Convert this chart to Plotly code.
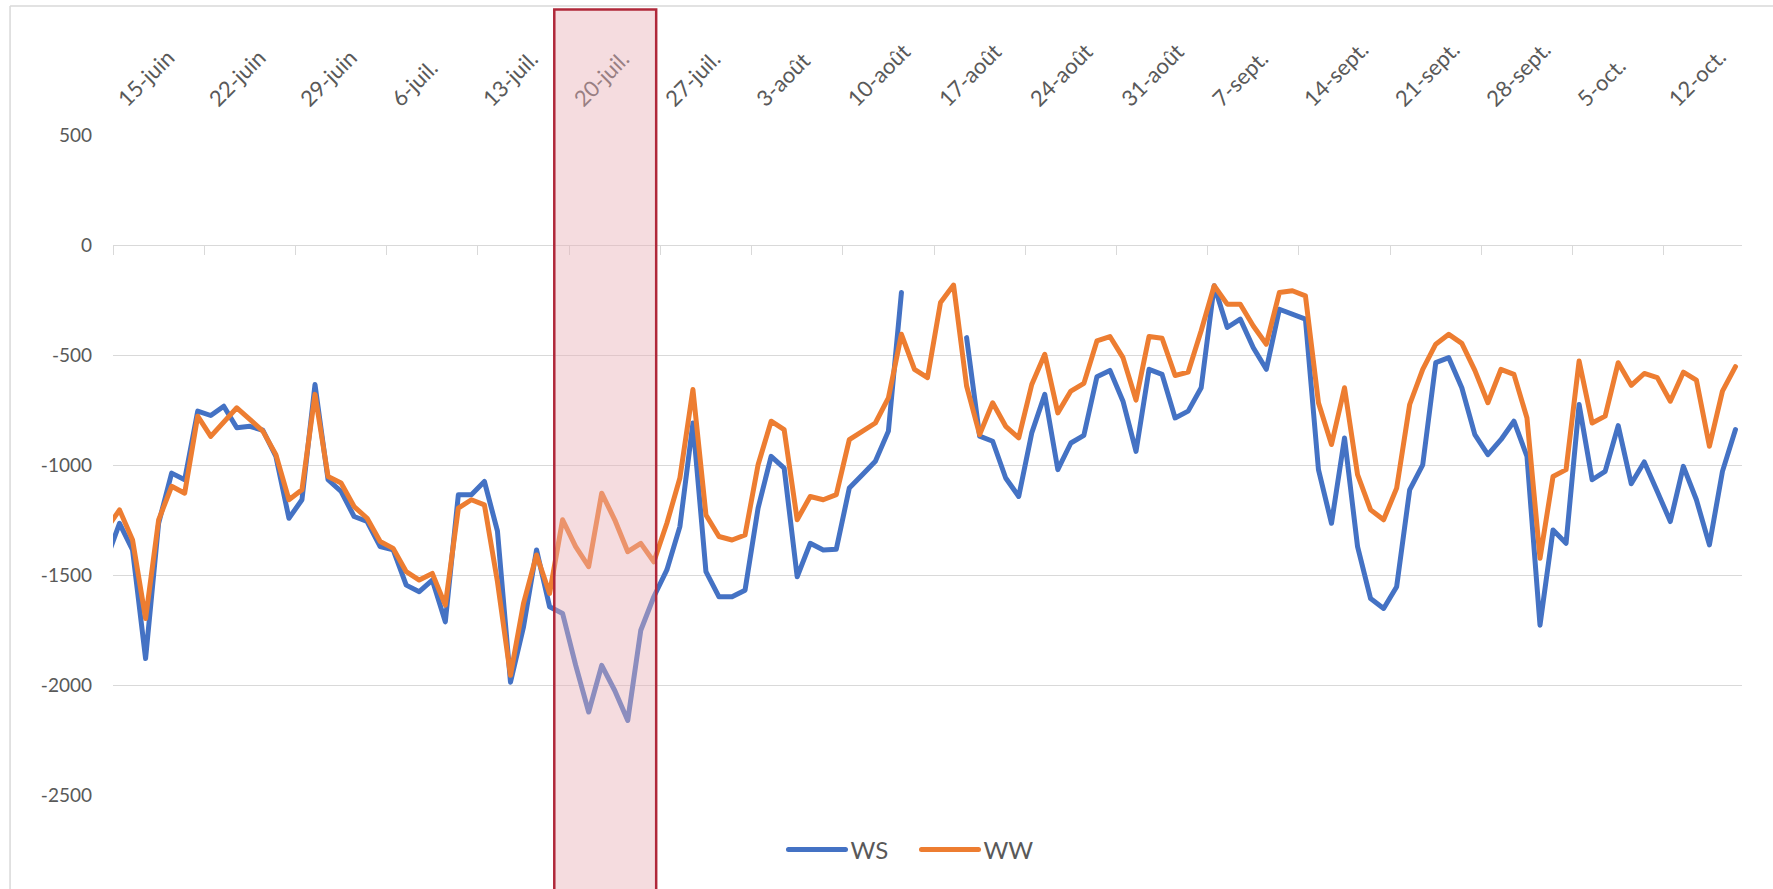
import pandas as pd
import plotly.graph_objects as go

# ---- data (daily, 14 June -> 17 Oct) ----
start_date = "2020-06-14"
end_date = "2020-10-17"
dates = pd.date_range(start_date, end_date, freq="D")

ws = [-1430, -1265, -1386, -1880, -1265, -1037, -1067, -755, -775, -733,
      -831, -824, -842, -961, -1242, -1158, -634, -1067, -1120, -1234,
      -1257, -1371, -1386, -1546, -1576, -1523, -1713, -1135, -1135, -1075,
      -1300, -1987, -1736, -1386, -1644, -1675, -1910, -2123, -1911, -2025,
      -2161, -1751, -1599, -1477, -1280, -809, -1485, -1599, -1599, -1569,
      -1196, -961, -1014, -1508, -1356, -1386, -1383, -1105, -1044, -983,
      -846, -216, None, None, None, None, -421, -869, -892, -1059,
      -1143, -854, -679, -1021, -900, -865, -599, -570, -710, -938,
      -565, -588, -786, -755, -649, -185, -375, -337, -467, -565,
      -292, -315, -337, -1021, -1265, -877, -1371, -1607, -1652, -1553,
      -1113, -999, -535, -512, -649, -862, -953, -885, -801, -961,
      -1728, -1295, -1356, -725, -1067, -1029, -821, -1085, -986, -1120,
      -1257, -1006, -1158, -1363, -1029, -839]

ww = [-1290, -1204, -1341, -1698, -1250, -1097, -1128, -778, -870, -809,
      -740, -793, -846, -953, -1158, -1113, -679, -1052, -1082, -1189,
      -1242, -1348, -1379, -1485, -1523, -1493, -1637, -1196, -1158, -1181,
      -1530, -1956, -1629, -1409, -1584, -1249, -1371, -1462, -1128, -1249,
      -1394, -1356, -1440, -1265, -1059, -657, -1227, -1325, -1341, -1318,
      -999, -801, -839, -1249, -1143, -1158, -1135, -885, -846, -809,
      -695, -406, -565, -603, -261, -182, -641, -862, -717, -824,
      -877, -634, -497, -763, -664, -629, -436, -416, -512, -705,
      -416, -424, -593, -578, -390, -185, -269, -269, -368, -451,
      -216, -208, -231, -717, -907, -649, -1044, -1204, -1249, -1105,
      -725, -565, -451, -406, -447, -570, -717, -565, -588, -786,
      -1424, -1052, -1021, -527, -809, -778, -535, -638, -584, -603,
      -710, -578, -614, -915, -664, -553]

tick_dates = pd.date_range("2020-06-15", "2020-10-12", freq="7D")
tick_labels = ["15-juin", "22-juin", "29-juin", "6-juil.", "13-juil.", "20-juil.",
               "27-juil.", "3-août", "10-août", "17-août", "24-août", "31-août",
               "7-sept.", "14-sept.", "21-sept.", "28-sept.", "5-oct.", "12-oct."]

y_ticks = [500, 0, -500, -1000, -1500, -2000, -2500]
y_tick_labels = ["500", "0", "-500", "-1000", "-1500", "-2000", "-2500"]
highlight_start = "2020-07-18 08:40"
highlight_end = "2020-07-26 04:20"

# ---- figure ----
half_day = pd.Timedelta(hours=12)
x_range = [dates[0] + half_day, dates[-1] + half_day]
boundaries = tick_dates - half_day

GRID = "#D9D9D9"
TXT = "#595959"
FONT = "Lato"

fig = go.Figure()
fig.add_trace(go.Scatter(x=dates, y=ws, name="WS", mode="lines",
                         line=dict(color="#4472C4", width=5)))
fig.add_trace(go.Scatter(x=dates, y=ww, name="WW", mode="lines",
                         line=dict(color="#ED7D31", width=5)))
# carrier for the zero-line axis with tick marks
fig.add_trace(go.Scatter(x=dates, y=[None] * len(dates), xaxis="x2",
                         showlegend=False, hoverinfo="skip", mode="lines"))

ymin, ymax = -2500, 500
zero_pos = (0 - ymin) / (ymax - ymin)

fig.update_layout(
    width=1773, height=889,
    margin=dict(l=113, r=31, t=135, b=94),
    paper_bgcolor="white", plot_bgcolor="white",
    font=dict(family=FONT, size=19, color=TXT),
    showlegend=True,
    legend=dict(orientation="h", x=0.4116, xanchor="left", y=-0.083, yanchor="middle",
                font=dict(size=24, color=TXT), bgcolor="rgba(0,0,0,0)",
                itemwidth=57, entrywidth=61, entrywidthmode="pixels"),
    xaxis=dict(type="date", range=x_range, side="top",
               tickvals=tick_dates, ticktext=tick_labels, tickangle=-45,
               ticks="outside", ticklen=14, tickcolor="rgba(0,0,0,0)",
               showgrid=False, showline=False, zeroline=False,
               tickfont=dict(family=FONT, size=22, color=TXT)),
    xaxis2=dict(type="date", range=x_range, overlaying="x", anchor="free",
                position=zero_pos, side="bottom",
                tickvals=boundaries, ticks="outside", ticklen=9, tickwidth=1.3,
                tickcolor=GRID, showticklabels=False, showgrid=False,
                showline=True, linecolor=GRID, linewidth=1.3, zeroline=False),
    yaxis=dict(range=[ymin, ymax], tickvals=y_ticks, ticktext=y_tick_labels,
               showgrid=True, gridcolor=GRID, gridwidth=1.3, zeroline=False,
               showline=False, ticks="", ticklabelstandoff=20,
               tickfont=dict(family=FONT, size=19, color=TXT)),
    shapes=[
        dict(type="rect", xref="x", yref="paper", x0=highlight_start, x1=highlight_end,
             y0=-0.3, y1=1.19, layer="above",
             fillcolor="rgba(232,175,182,0.44)",
             line=dict(color="#B0283A", width=2.5)),
        dict(type="line", xref="paper", yref="paper", x0=-0.0632, x1=-0.0632,
             y0=-0.3, y1=1.1955, line=dict(color=GRID, width=1.5)),
        dict(type="line", xref="paper", yref="paper", x0=-0.0632, x1=1.1,
             y0=1.1955, y1=1.1955, line=dict(color=GRID, width=1.5)),
    ],
)

post = ("document.body.style.margin='0';document.body.style.overflow='hidden';"
        "document.querySelectorAll('.scatterlayer path.js-line').forEach(function(p){"
        "p.style.strokeLinejoin='round';p.style.strokeLinecap='round';});"
        "document.querySelectorAll('.legend path.js-line').forEach(function(p){"
        "p.style.strokeLinecap='round';});")

fig.write_html("out.html", post_script=post, config={"displayModeBar": False})
